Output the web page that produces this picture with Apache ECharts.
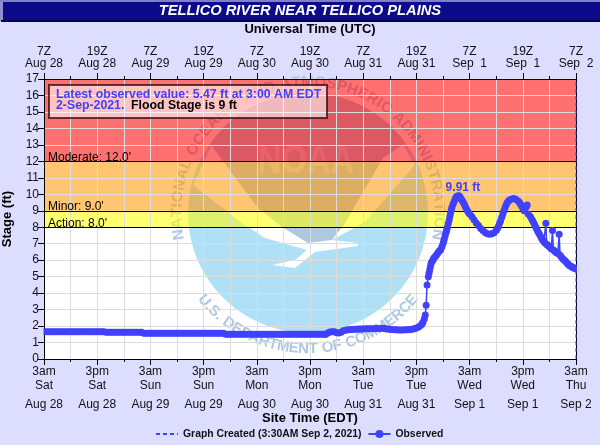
<!DOCTYPE html>
<html><head><meta charset="utf-8">
<style>html,body{margin:0;padding:0;background:#DDDDFF}#c{width:600px;height:445px}</style>
<script src="https://cdn.jsdelivr.net/npm/echarts@6/dist/echarts.min.js"></script>
</head><body><div id="c"></div>
<script>
const titleText = 'TELLICO RIVER NEAR TELLICO PLAINS';
const utcTimes = ['7Z','19Z','7Z','19Z','7Z','19Z','7Z','19Z','7Z','19Z','7Z'];
const utcDates = ['Aug 28','Aug 28','Aug 29','Aug 29','Aug 30','Aug 30','Aug 31','Aug 31','Sep  1','Sep  1','Sep  2'];
const siteTimes = ['3am','3pm','3am','3pm','3am','3pm','3am','3pm','3am','3pm','3am'];
const siteDays = ['Sat','Sat','Sun','Sun','Mon','Mon','Tue','Tue','Wed','Wed','Thu'];
const siteDates = ['Aug 28','Aug 28','Aug 29','Aug 29','Aug 30','Aug 30','Aug 31','Aug 31','Sep 1','Sep 1','Sep 2'];
const floodNames = ['Action','Minor','Moderate'];
const floodStages = [8, 9, 12];
// half-hourly stage readings (ft) from 3am Aug 28 onward
const steadyStages = [
1.66,1.66,1.66,1.66,1.66,1.66,1.66,1.66,1.66,1.66,1.66,1.66,1.66,1.66,
1.66,1.66,1.66,1.66,1.66,1.66,1.66,1.66,1.66,1.66,1.66,1.66,1.66,1.66,
1.62,1.62,1.62,1.62,1.62,1.62,1.62,1.62,1.62,1.62,1.62,1.62,1.62,1.62,1.62,1.62,1.62,
1.56,1.56,1.56,1.56,1.56,1.56,1.56,1.56,1.56,1.56,1.56,1.56,1.56,1.56,1.56,1.56,1.56,1.56,
1.56,1.56,1.56,1.56,1.56,1.56,1.56,1.56,1.56,1.56,1.56,1.56,1.56,1.56,1.56,1.56,1.56,1.56,1.56,
1.50,1.50,1.50,1.50,1.50,1.50,1.50,1.50,1.50,1.50,1.50,1.50,1.50,1.50,1.50,1.50,1.50,1.50,1.50,1.50,1.50,1.50,1.50,
1.50,1.50,1.50,1.50,1.50,1.50,1.50,1.50,1.50,1.50,1.50,1.50,1.50,1.50,1.50,1.50,1.50,1.50,1.50,1.50,1.50,1.50,1.50
];
// [hours after 3am Aug 28, stage ft]
const riseReadings = [
[63.5,1.50],[64,1.58],[64.5,1.64],[65,1.66],[65.5,1.66],[66,1.60],[66.5,1.58],[67,1.62],[67.5,1.72],[68,1.75],[68.5,1.77],[69,1.78],[69.5,1.79],[70,1.80],[70.5,1.80],
[71,1.82],[71.5,1.82],[72,1.82],[72.5,1.83],[73,1.83],[73.5,1.83],[74,1.84],[74.5,1.84],[75,1.85],[75.5,1.85],[76,1.86],[76.5,1.86],[77,1.84],[77.5,1.82],[78,1.80],[78.5,1.79],[79,1.78],[79.5,1.78],[80,1.76],[80.5,1.76],[81,1.76],[81.5,1.77],[82,1.78],[82.5,1.79],[83,1.80],[83.5,1.84],[84,1.88],[84.5,1.94],[85,2.05],[85.3,2.14],[85.5,2.25],[85.8,2.45],[86,2.67],
[86.2,3.26],[86.4,4.5],[86.7,5.0],[86.85,5.2],[87,5.4],[87.15,5.6],[87.3,5.8],[87.5,5.9],[87.7,6.0],[87.85,6.08],[88,6.15],[88.25,6.22],[88.5,6.3],[88.75,6.4],[89,6.5],[89.25,6.58],[89.5,6.65],[89.75,6.82],[90,7.0],[90.15,7.15],[90.3,7.3],[90.5,7.5],[90.7,7.7],[90.85,7.85],[91,8.0],[91.2,8.22],[91.4,8.44],[91.55,8.65],[91.7,8.85],[91.85,9.05],[92,9.2],[92.25,9.4],[92.5,9.55],[92.75,9.72],[93,9.85],[93.3,9.9],[93.6,9.91]
];
const recessionReadings = [
[93.8,9.85],[94,9.75],[94.25,9.65],[94.5,9.55],[94.75,9.42],[95,9.28],[95.25,9.14],[95.5,9.0],[95.75,8.9],[96,8.8],[96.5,8.65],[97,8.45],[97.5,8.25],[98,8.1],[98.5,7.93],[99,7.8],[99.5,7.68],[100,7.6],[100.5,7.58],[101,7.6],[101.5,7.66],[102,7.8],[102.25,7.92],[102.5,8.05],[102.75,8.22],[103,8.4],[103.25,8.6],[103.5,8.8],[103.75,9.0],[104,9.2],[104.25,9.36],[104.5,9.5],[104.75,9.58],[105,9.65],[105.5,9.72],[106,9.75],[106.5,9.68],[107,9.58],[107.25,9.5],[107.5,9.4],[107.75,9.28],[108,9.15],[108.3,9.0],[108.8,9.25],[109,9.35],[109.2,8.8],[109.7,8.65],[110,8.5],[110.25,8.38],[110.5,8.25],[110.75,8.1],[111,7.95],[111.25,7.82],[111.5,7.7],[111.75,7.58],[112,7.45],[112.25,7.32],[112.5,7.22],[112.75,7.14],[113,7.05],[113.2,8.24],[113.4,6.95],[113.65,6.9],[113.9,6.85],[114.15,6.78],[114.4,6.7],[114.7,7.8],[114.9,6.62],[115.15,6.56],[115.4,6.5],[115.65,6.45],[115.9,6.4],[116.2,7.57],[116.4,6.3],[116.7,6.2],[117,6.08],[117.25,6.02],[117.5,5.97],[117.75,5.9],[118,5.82],[118.25,5.75],[118.5,5.68],[118.75,5.64],[119,5.6],[119.25,5.56],[119.5,5.52],[119.75,5.49],[120,5.47]
];
const crest = [93.6, 9.91];
const graphCreatedHour = 120;

const font = 'Liberation Sans, Arial, sans-serif';
const BLUE = '#4040FF';
const observed = steadyStages.map((v,i)=>[i*0.5,v]).concat(riseReadings, recessionReadings);

// NOAA seal (page furniture, under the flood bands)
const cx=308, cy=213, R=120;
const seal = [];
const ctx = document.createElement('canvas').getContext('2d');
function arcText(text, r, a0, a1, bottom, fnt){
  ctx.font = fnt;
  const widths=[...text].map(c=>ctx.measureText(c).width+1);
  const tot=widths.reduce((a,b)=>a+b,0);
  let run=0;
  [...text].forEach((c,i)=>{
    const frac=(run+widths[i]/2)/tot; run+=widths[i];
    const a=(a0+(a1-a0)*frac)*Math.PI/180;
    seal.push({type:'text',z:-3,silent:true,
      x:cx+r*Math.sin(a), y: bottom? cy+r*Math.cos(a): cy-r*Math.cos(a),
      rotation: bottom? a: -a,
      style:{text:c,font:fnt,fill:'#AFC8E1',align:'center',verticalAlign:'middle'}});
  });
}
seal.push({type:'circle',z:-4,silent:true,shape:{cx,cy,r:R},style:{fill:'#B0E0F5'}});
seal.push({type:'polygon',z:-3.9,silent:true,shape:{points:[[212,145],[193,185],[242,223],[265,238],[307,250],[295,260],[272,265],[295,268],[315,252],[358,246],[358,243],[332,240],[365,222],[415,165],[403,145]]},style:{fill:'#FFFFFF'}});
(function(){
  const pts=[];
  const a0=Math.atan2(145-cy,212-cx), a1=Math.atan2(145-cy,403-cx);
  for(let i=0;i<=40;i++){const a=a0+(a1-a0)*i/40;pts.push([cx+R*Math.cos(a),cy+R*Math.sin(a)]);}
  pts.push([383,158],[345,223],[332,240],[308,243],[282,227],[258,208]);
  seal.push({type:'polygon',z:-3.8,silent:true,shape:{points:pts},style:{fill:'#AFC8E1'}});
})();
seal.push({type:'text',z:-3.7,silent:true,x:306,y:162,scaleX:0.8,scaleY:1,
  style:{text:'NOAA',font:'bold 41px '+font,fill:'#CFE0F0',align:'center',verticalAlign:'middle'}});
arcText('NATIONAL OCEANIC AND ATMOSPHERIC ADMINISTRATION',131,-102,102,false,'bold 15px '+font);
arcText('U.S. DEPARTMENT OF COMMERCE',136,-52,52,true,'bold 15px '+font);

const furniture = [
 {type:'rect',z:20,silent:true,shape:{x:0,y:0,width:600,height:2},style:{fill:'#8080C8'}},
 {type:'rect',z:20,silent:true,shape:{x:0,y:2,width:3,height:19},style:{fill:'#9090D0'}},
 {type:'rect',z:20,silent:true,shape:{x:3,y:2,width:597,height:18},style:{fill:'#0A0A8A'}},
 {type:'rect',z:20,silent:true,shape:{x:1,y:20,width:599,height:2},style:{fill:'#00004E'}},
 {type:'text',z:21,silent:true,x:300,y:11,style:{text:titleText,font:'italic bold 14.7px '+font,fill:'#fff',align:'center',verticalAlign:'middle'}},
 {type:'rect',z:20,silent:true,shape:{x:49,y:85,width:278,height:33},style:{fill:'rgba(255,255,255,0.58)',stroke:'rgba(40,10,15,0.75)',lineWidth:2}},
 {type:'text',z:21,silent:true,x:56,y:95,style:{text:'Latest observed value: 5.47 ft at 3:00 AM EDT',font:'bold 12.3px '+font,fill:BLUE,align:'left',verticalAlign:'middle'}},
 {type:'text',z:21,silent:true,x:56,y:106,style:{text:'2-Sep-2021.',font:'bold 12.3px '+font,fill:BLUE,align:'left',verticalAlign:'middle'}},
 {type:'text',z:21,silent:true,x:131,y:106,style:{text:'Flood Stage is 9 ft',font:'bold 12.3px '+font,fill:'#000',align:'left',verticalAlign:'middle'}},
 // trims the round marker ends at the plot edges, as in the reference
 {type:'rect',z:4,silent:true,shape:{x:38,y:327,width:5.5,height:10},style:{fill:'#DDDDFF'}},
 {type:'rect',z:4,silent:true,shape:{x:577,y:262,width:8,height:14},style:{fill:'#DDDDFF'}}
];

const bandColors = ['rgba(255,255,0,0.56)','rgba(255,152,0,0.56)','rgba(255,0,0,0.56)'];
const bandTops = [9,12,17];

const chart = echarts.init(document.getElementById('c'),null,{renderer:'canvas'});
chart.setOption({
 animation:false,
 backgroundColor:'#DDDDFF',
 textStyle:{fontFamily:font},
 grid:{left:44,right:24,top:79,bottom:86,show:true,backgroundColor:'#fff',borderWidth:0,z:-6,outerBoundsMode:'none'},
 graphic:{elements:seal.concat(furniture)},
 legend:{left:150,top:424,itemWidth:22,itemHeight:10,itemGap:6,
   textStyle:{fontFamily:font,fontWeight:'bold',fontSize:10.4,color:'#111'},
   data:[{name:'Graph Created (3:30AM Sep 2, 2021)',itemStyle:{opacity:0}},{name:'Observed'}]},
 xAxis:[{type:'value',position:'bottom',min:0,max:120,interval:12,
   name:'Site Time (EDT)',nameLocation:'middle',nameGap:53,nameMoveOverlap:false,
   nameTextStyle:{fontFamily:font,fontWeight:'bold',fontSize:13,color:'#000'},
   axisLine:{onZero:false,lineStyle:{color:'#000',width:1}},
   axisTick:{length:6,lineStyle:{color:'#000'}},
   minorTick:{show:true,splitNumber:2,length:3,lineStyle:{color:'#000'}},
   splitLine:{show:true,lineStyle:{color:'#DDD',width:1}},
   minorSplitLine:{show:true,lineStyle:{color:'#DDD',width:1}},
   axisLabel:{margin:6,hideOverlap:false,showMinLabel:true,showMaxLabel:true,
     formatter:(v)=>{const i=Math.round(v/12);return '{a|'+siteTimes[i]+'}\n{a|'+siteDays[i]+'}\n{b|'+siteDates[i]+'}';},
     rich:{a:{fontFamily:font,fontSize:12,lineHeight:14,color:'#111'},b:{fontFamily:font,fontSize:12,lineHeight:18,color:'#111',verticalAlign:'bottom'}}}
  },{type:'value',position:'top',min:0,max:120,interval:12,
   name:'Universal Time (UTC)',nameLocation:'middle',nameGap:43,nameMoveOverlap:false,
   nameTextStyle:{fontFamily:font,fontWeight:'bold',fontSize:13,color:'#000'},
   axisLine:{onZero:false,lineStyle:{color:'#000',width:1}},
   axisTick:{length:6,lineStyle:{color:'#000'}},
   minorTick:{show:true,splitNumber:2,length:3,lineStyle:{color:'#000'}},
   splitLine:{show:false},
   axisLabel:{margin:9,hideOverlap:false,showMinLabel:true,showMaxLabel:true,lineHeight:12,fontFamily:font,fontSize:12,color:'#111',
     formatter:(v)=>{const i=Math.round(v/12);return utcTimes[i]+'\n'+utcDates[i];}}
  }],
 yAxis:[{type:'value',min:0,max:17,interval:1,position:'left',
   name:'Stage (ft)',nameLocation:'middle',nameGap:30,nameMoveOverlap:false,
   nameTextStyle:{fontFamily:font,fontWeight:'bold',fontSize:13,color:'#000'},
   axisLine:{show:true,onZero:false,lineStyle:{color:'#000',width:1}},
   axisTick:{show:true,length:6,lineStyle:{color:'#000'}},
   splitLine:{show:true,lineStyle:{color:'#DDD',width:1}},
   axisLabel:{margin:5,fontFamily:font,fontSize:12,color:'#111'}
  },{type:'value',min:0,max:17,interval:1,position:'right',
   axisLine:{show:true,onZero:false,lineStyle:{color:'#000',width:1}},
   axisTick:{show:false},axisLabel:{show:false},splitLine:{show:false}}],
 series:[
  {name:'Graph Created (3:30AM Sep 2, 2021)',type:'line',symbol:'none',clip:false,z:3,
   lineStyle:{color:BLUE,width:1,type:[4,3]},itemStyle:{color:BLUE},
   data:[[graphCreatedHour,0],[graphCreatedHour,17]]},
  {name:'Observed',type:'line',symbol:'circle',symbolSize:7,showAllSymbol:true,z:2,
   lineStyle:{color:BLUE,width:1.5},itemStyle:{color:BLUE},
   data:observed,
   markArea:{z:-1,silent:true,
     data:bandTops.map((t,i)=>[{yAxis:floodStages[i],itemStyle:{color:bandColors[i]}},{yAxis:t}])},
   markLine:{z:1,silent:true,symbol:'none',
     lineStyle:{color:'#000',width:1,type:'solid'},
     data:floodStages.map((v,i)=>({yAxis:v,
        label:{show:true,position:'insideStartTop',distance:[4,-2],
          formatter:floodNames[i]+': '+v.toFixed(1)+"'",fontFamily:font,fontSize:12,color:'#000'}}))},
   markPoint:{z:6,silent:true,symbol:'circle',symbolSize:1,itemStyle:{color:'transparent'},
     data:[{coord:crest,label:{show:true,position:'top',offset:[4,3],
        formatter:crest[1].toFixed(2)+' ft',fontFamily:font,fontWeight:'bold',fontSize:12,color:BLUE}}]}
  }
 ]
});
</script></body></html>
